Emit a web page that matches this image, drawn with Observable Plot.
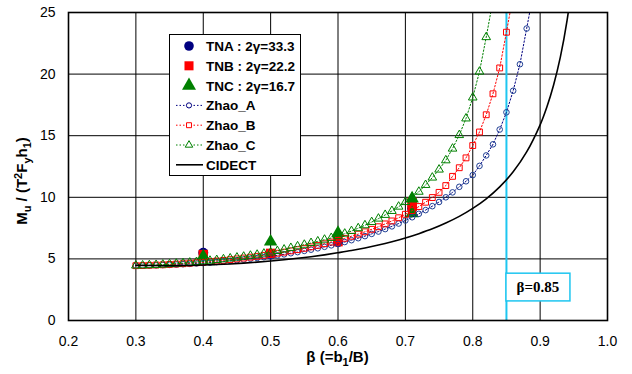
<!DOCTYPE html>
<html><head><meta charset="utf-8">
<script src="https://cdn.jsdelivr.net/npm/d3@7"></script>
<script src="https://cdn.jsdelivr.net/npm/@observablehq/plot@0.6"></script>
<style>
body{margin:0;background:#fff;}
#chart{position:relative;width:632px;height:374px;}
</style></head><body><div id="chart"></div>
<script>
// ---------- data ----------
const xTicks = [0.2,0.3,0.4,0.5,0.6,0.7,0.8,0.9,1.0];
const yTicks = [0,5,10,15,20,25];

const zhaoBeta = [0.30,0.31,0.32,0.33,0.34,0.35,0.36,0.37,0.38,0.39,
  0.40,0.41,0.42,0.43,0.44,0.45,0.46,0.47,0.48,0.49,
  0.50,0.51,0.52,0.53,0.54,0.55,0.56,0.57,0.58,0.59,
  0.60,0.61,0.62,0.63,0.64,0.65,0.66,0.67,0.68,0.69,
  0.70,0.71,0.72,0.73,0.74,0.75,0.76,0.77,0.78,0.79,
  0.80,0.81,0.82,0.83,0.84,0.85,0.86,0.87,0.88,0.89];

const zhaoA = [4.45,4.46,4.47,4.48,4.50,4.52,4.54,4.57,4.60,4.63,
  4.66,4.70,4.74,4.79,4.84,4.89,4.95,5.01,5.07,5.14,
  5.21,5.29,5.37,5.46,5.55,5.65,5.75,5.86,5.98,6.10,
  6.23,6.37,6.52,6.68,6.85,7.03,7.22,7.42,7.64,7.87,
  8.12,8.38,8.66,8.96,9.28,9.62,10.0,10.4,10.85,11.3,
  11.8,12.55,13.4,14.3,15.5,16.9,18.65,20.8,23.7,26.6];

const zhaoB = [4.45,4.46,4.48,4.50,4.52,4.55,4.58,4.61,4.65,4.69,
  4.73,4.78,4.83,4.88,4.94,5.00,5.07,5.14,5.21,5.29,
  5.37,5.46,5.55,5.65,5.75,5.86,5.98,6.10,6.23,6.37,
  6.52,6.67,6.84,7.01,7.20,7.40,7.61,7.84,8.08,8.34,
  8.62,8.92,9.25,9.60,9.98,10.4,10.95,11.7,12.4,13.2,
  14.2,15.3,16.7,18.4,20.5,23.4,26.4];

const zhaoC = [4.46,4.47,4.49,4.51,4.54,4.57,4.61,4.65,4.70,4.75,
  4.80,4.85,4.91,4.97,5.04,5.11,5.18,5.26,5.34,5.43,
  5.52,5.64,5.76,5.89,6.02,6.15,6.29,6.42,6.56,6.70,
  6.85,7.05,7.26,7.49,7.73,7.99,8.27,8.57,8.89,9.24,
  9.61,10.0,10.45,11.0,11.6,12.25,13.0,13.95,15.05,16.4,
  18.1,20.2,23.0,26.0];

const cidectBeta = [0.30,0.32,0.34,0.36,0.38,0.40,0.42,0.44,0.46,0.48,0.50,0.52,0.54,0.56,0.58,
  0.60,0.62,0.64,0.66,0.68,0.70,0.72,0.74,0.76,0.78,0.80,0.82,0.84,0.86,0.88,0.90,0.91,0.92,0.93,0.94,0.95];
const cidectVal = [4.49,4.46,4.45,4.45,4.47,4.50,4.54,4.59,4.66,4.74,4.83,4.93,5.05,5.18,5.33,
  5.50,5.68,5.89,6.13,6.40,6.70,7.05,7.44,7.91,8.45,9.10,9.88,10.85,12.07,13.68,15.88,17.33,19.12,21.38,24.36,28.47];

const tnaBeta = [0.40,0.50,0.60,0.71];
const tnaVal  = [5.50,5.35,6.35,9.10];
const tnbBeta = [0.40,0.50,0.60,0.71,0.71];
const tnbVal  = [5.35,5.45,6.40,9.60,9.25];
const tncBeta = [0.40,0.50,0.60,0.71,0.71];
const tncVal  = [5.20,6.40,7.10,9.90,8.70];

const betaLimit = [0.85];
const betaLimitLabel = "β=0.85";

const legendLabels = ["TNA : 2γ=33.3","TNB : 2γ=22.2","TNC : 2γ=16.7","Zhao_A","Zhao_B","Zhao_C","CIDECT"];

// ---------- build rows ----------
const rows = (bs, vs) => vs.map((v,i) => ({x: bs[i], y: v}));
const dA = rows(zhaoBeta, zhaoA), dB = rows(zhaoBeta, zhaoB), dC = rows(zhaoBeta, zhaoC);
const dCid = rows(cidectBeta, cidectVal);
const dTNA = rows(tnaBeta, tnaVal), dTNB = rows(tnbBeta, tnbVal), dTNC = rows(tncBeta, tncVal);

const NAVY = "#000080", RED = "#FF0000", GREEN = "#008000", CYAN = "#1EC6F0";
const dash = "1.5,2";
const FONT = "Liberation Sans, Arial, sans-serif";

const plot = Plot.plot({
  width: 632, height: 374,
  marginLeft: 68, marginRight: 25, marginTop: 12, marginBottom: 54,
  style: {fontFamily: FONT, fontSize: "14px", background: "white", color: "black"},
  x: {domain: [0.2, 1.0], label: null},
  y: {domain: [0, 25], label: null},
  marks: [
    Plot.gridX(xTicks, {stroke: "#000", strokeOpacity: 1, strokeWidth: 1}),
    Plot.gridY(yTicks, {stroke: "#000", strokeOpacity: 1, strokeWidth: 1}),
    Plot.axisX(xTicks, {tickSize: 0, tickPadding: 16, tickFormat: d => d.toFixed(1), fontSize: 14, label: null}),
    Plot.axisY(yTicks, {tickSize: 0, tickPadding: 13, fontSize: 14, label: null}),
    Plot.ruleX(betaLimit, {stroke: CYAN, strokeWidth: 2}),
    // test data
    Plot.dot(dTNA, {x: "x", y: "y", symbol: "circle", r: 5, fill: NAVY, stroke: "none", clip: true}),
    Plot.dot(dTNB, {x: "x", y: "y", symbol: "square", r: 5.3, fill: RED, stroke: "none", clip: true}),
    Plot.dot(dTNC, {x: "x", y: "y", symbol: "triangle", r: 5, fill: GREEN, stroke: "none", clip: true}),
    // Zhao series
    Plot.line(dA, {x: "x", y: "y", stroke: NAVY, strokeWidth: 1, strokeDasharray: dash, clip: true}),
    Plot.dot(dA, {x: "x", y: "y", symbol: "circle", r: 2.8, fill: "none", stroke: "#1F3F94", strokeWidth: 1, clip: true}),
    Plot.line(dB, {x: "x", y: "y", stroke: RED, strokeWidth: 1, strokeDasharray: dash, clip: true}),
    Plot.dot(dB, {x: "x", y: "y", symbol: "square", r: 3.3, fill: "none", stroke: RED, strokeWidth: 1, clip: true}),
    Plot.line(dC, {x: "x", y: "y", stroke: GREEN, strokeWidth: 1, strokeDasharray: dash, clip: true}),
    Plot.dot(dC, {x: "x", y: "y", symbol: "triangle", r: 3.2, fill: "none", stroke: GREEN, strokeWidth: 1, clip: true}),
    // CIDECT
    Plot.line(dCid, {x: "x", y: "y", stroke: "#000", strokeWidth: 1.6, curve: "catmull-rom", clip: true}),
    Plot.frame({stroke: "#000", strokeWidth: 1.6})
  ]
});

document.getElementById("chart").appendChild(plot);

// ---------- overlays: titles, legend, β label ----------
const xs = plot.scale("x").apply, ys = plot.scale("y").apply;
const svg = d3.select(plot);

// helper: rich text with sub/superscripts via dy
function richText(sel, parts, size, small) {
  let shift = 0;
  parts.forEach(([t, s]) => {
    const target = s === 1 ? 3.5 : s === -1 ? -5.5 : 0;
    const sp = sel.append("tspan").text(t).attr("dy", target - shift);
    shift = target;
    if (s !== 0) sp.attr("font-size", small);
  });
}

// y title
const yt = svg.append("text")
  .attr("transform", "translate(27," + ((ys(0)+ys(25))/2 + 15) + ") rotate(-90)")
  .attr("text-anchor", "middle")
  .attr("font-family", FONT).attr("font-weight", "bold").attr("font-size", 15).attr("fill", "#000");
richText(yt, [["M",0],["u",1],[" / (T",0],["2",-1],["F",0],["y",1],["h",0],["1",1],[")",0]], 15, 11);

// x title
const xt = svg.append("text")
  .attr("x", (xs(0.2)+xs(1.0))/2).attr("y", 362)
  .attr("text-anchor", "middle")
  .attr("font-family", FONT).attr("font-weight", "bold").attr("font-size", 15).attr("fill", "#000");
richText(xt, [["β (=b",0],["1",1],["/B)",0]], 15, 11);

// legend
const lg = svg.append("g");
lg.append("rect").attr("x", 169.5).attr("y", 34.5).attr("width", 131).attr("height", 141)
  .attr("fill", "#fff").attr("stroke", "#000").attr("stroke-width", 1);
const rowY = i => 46 + i*19.8;
const mx = 189;
const sym = (type, r) => d3.symbol(type, Math.PI*r*r)();
const legendMarks = [
  {sym: d3.symbolCircle, r: 4.8, fill: NAVY, stroke: "none"},
  {sym: d3.symbolSquare, r: 5.1, fill: RED, stroke: "none"},
  {sym: d3.symbolTriangle, r: 5.2, fill: GREEN, stroke: "none"},
  {sym: d3.symbolCircle, r: 2.6, fill: "#fff", stroke: NAVY, line: NAVY, dash: dash},
  {sym: d3.symbolSquare, r: 2.8, fill: "#fff", stroke: RED, line: RED, dash: dash},
  {sym: d3.symbolTriangle, r: 2.8, fill: "#fff", stroke: GREEN, line: GREEN, dash: dash},
  {line: "#000", dash: null}
];
legendMarks.forEach((m, i) => {
  const y = rowY(i);
  if (m.line) {
    lg.append("line").attr("x1", 176).attr("x2", 203).attr("y1", y).attr("y2", y)
      .attr("stroke", m.line).attr("stroke-width", m.dash ? 1 : 1.6)
      .attr("stroke-dasharray", m.dash);
  }
  if (m.sym) {
    lg.append("path").attr("d", sym(m.sym, m.r)).attr("transform", `translate(${mx},${y})`)
      .attr("fill", m.fill).attr("stroke", m.stroke).attr("stroke-width", 1);
  }
  lg.append("text").attr("x", 206).attr("y", y + 5).attr("text-anchor", "start")
    .attr("font-family", FONT).attr("font-weight", "bold")
    .attr("font-size", 13.5).attr("fill", "#000").text(legendLabels[i]);
});

// β=0.85 box
const bx = xs(betaLimit[0]);
const bTop = ys(3.8), bBot = ys(1.55);
svg.append("rect").attr("x", bx).attr("y", bTop).attr("width", 64).attr("height", bBot - bTop)
  .attr("fill", "#fff").attr("stroke", CYAN).attr("stroke-width", 1.5);
svg.append("text").attr("x", bx + 32).attr("y", (bTop + bBot)/2 + 5)
  .attr("text-anchor", "middle")
  .attr("font-family", "Liberation Serif, Times New Roman, serif").attr("font-weight", "bold")
  .attr("font-size", 15).attr("fill", "#000").text(betaLimitLabel);
</script></body></html>
